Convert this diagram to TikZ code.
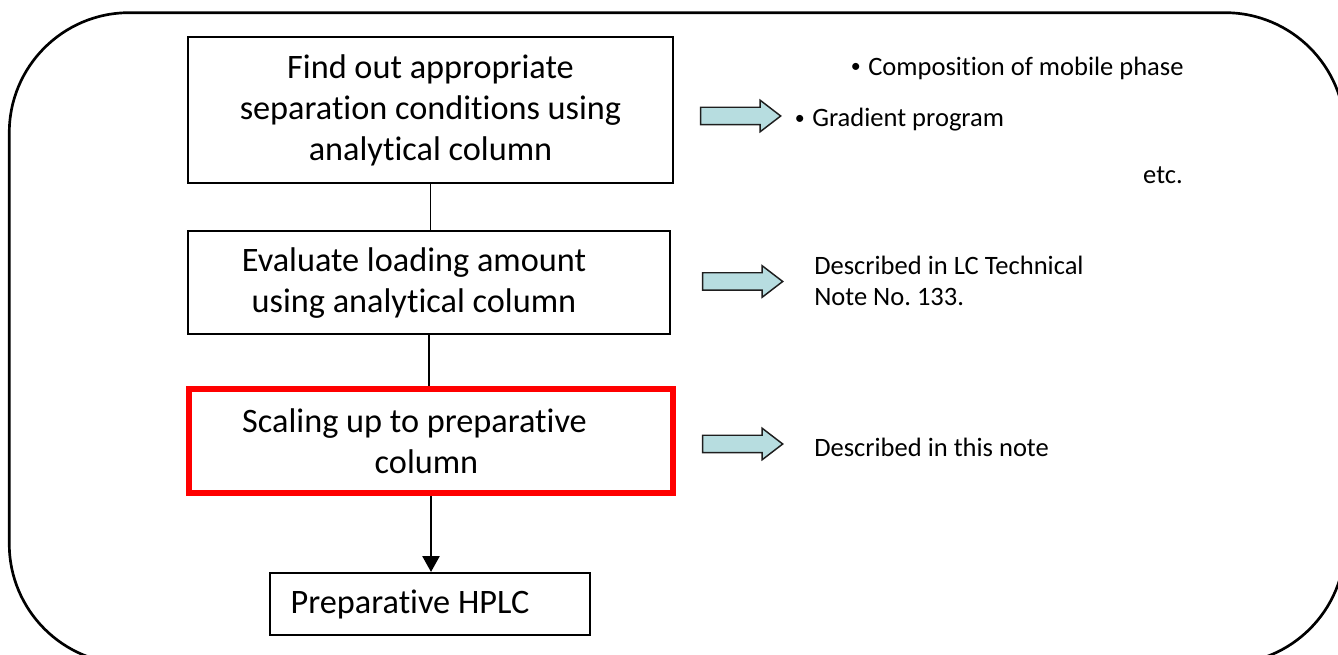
\documentclass[tikz,border=0pt]{standalone}
\usepackage{graphicx}
\usepackage{fontspec}
\setmainfont{Carlito}[Ligatures=NoCommon]
\usetikzlibrary{shapes.arrows,arrows.meta,calc}
\definecolor{arrowfill}{RGB}{183,221,224}
\definecolor{arrowline}{RGB}{30,30,30}
\newcommand\smbul{\makebox[9.75pt]{\raisebox{0.1em}{\scalebox{0.75}{•}}}}
\frenchspacing
\begin{document}
\begin{tikzpicture}[x=0.75pt,y=-0.75pt,
  boxfont/.style={font=\fontsize{25.7}{30.75}\selectfont},
  sidetext/.style={inner sep=0pt,font=\fontsize{19.9}{23.25}\selectfont},
  flowbox/.style={draw=black,line width=1.5pt,rectangle,inner sep=0pt,align=center,boxfont},
  redbox/.style={draw=red,line width=4.5pt,rectangle,inner sep=0pt},
  boxtext/.style={inner sep=0pt,align=center,boxfont},
  blockarrow/.style={single arrow,draw=arrowline,line width=1.1pt,fill=arrowfill,
    inner xsep=0pt,inner ysep=6pt,minimum height=60pt,
    single arrow head extend=5.25pt,single arrow tip angle=75,single arrow head indent=0pt},
  link/.style={draw=black,line width=1.1pt},
  flowarrow/.style={draw=black,line width=2pt,-{Triangle[width=12.75pt,length=12pt]}}
]
\useasboundingbox (0,0) rectangle (1338,655);
\begin{scope}
  \clip (0,0) rectangle (1338,655);
  \node[draw=black,line width=2pt,rounded corners=90pt,inner sep=0pt,
        minimum width=1001.8pt,minimum height=488.5pt] (frame) at (677.15,338.35) {};
\end{scope}

% flow boxes
\node[flowbox,minimum width=363.75pt,minimum height=109.5pt] (box1) at (430.5,110)
  {Find out appropriate\\separation conditions using\\analytical column};
\node[flowbox,minimum width=361.5pt,minimum height=77.25pt] (box2) at (429,282.5) {};
\node[boxtext] (t2) at (414,283) {Evaluate loading amount\\using analytical column};
\node[redbox,minimum width=363pt,minimum height=78pt] (box3) at (431,441) {};
\node[boxtext] (t3) at (426.5,441) {Scaling up to preparative\hspace*{18pt}\\column};
\node[flowbox,minimum width=240pt,minimum height=46.5pt] (box4) at (430,604) {};
\node[boxtext] (t4) at (410,604) {Preparative HPLC};

% connectors
\draw[link] (box1.south) -- (box1.south |- box2.north);
\draw[link] (box2.south) -- (box2.south |- box3.north);
\draw[flowarrow] (box3.south) -- (box3.south |- box4.north);

% block arrows
\node[blockarrow] (a1) at (735,116) {};
\node[blockarrow] (a2) at (737,281.5) {};
\node[blockarrow] (a3) at (737,444) {};

% side texts
\node[sidetext,anchor=west] (c1) at (849,68) {\smbul{} Composition of mobile phase};
\node[sidetext,anchor=west] (c2) at (793,120) {\smbul{} Gradient program};
\node[sidetext,anchor=east] (c3) at (1183,175) {etc.};
\node[sidetext,anchor=west,align=left] (d1) at (814,281) {Described in LC Technical\\Note No. 133.};
\node[sidetext,anchor=west] (d2) at (814,447) {Described in this note};
\end{tikzpicture}
\end{document}
